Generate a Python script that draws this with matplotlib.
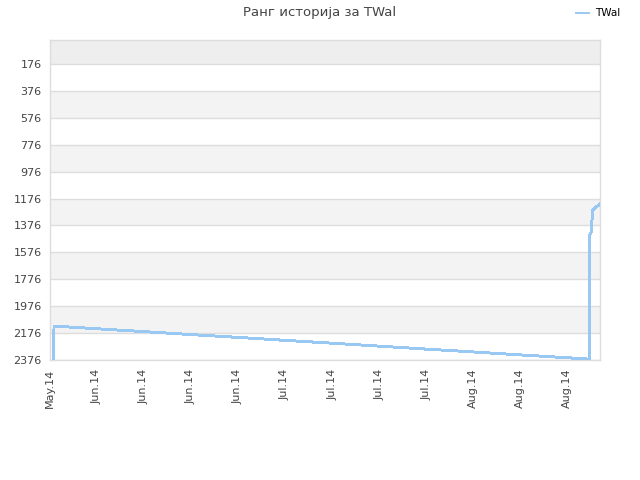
import matplotlib
matplotlib.use("Agg")
import matplotlib.pyplot as plt

# rank history (day offset from first tick, rank)
days = [0.5, 0.6, 7, 14, 21, 28, 35, 42, 49, 56, 63, 70, 77, 80.3, 80.4, 80.6, 80.8, 81.9]
ranks = [2376, 2124, 2144, 2165, 2187, 2208, 2230, 2251, 2273, 2295, 2316, 2338, 2359, 2370,
         1447, 1425, 1261, 1217]

tick_days = [0, 7, 14, 21, 28, 35, 42, 49, 56, 63, 70, 77]
tick_labels = ["May.14", "Jun.14", "Jun.14", "Jun.14", "Jun.14", "Jul.14", "Jul.14",
               "Jul.14", "Jul.14", "Aug.14", "Aug.14", "Aug.14"]
y_ticks = [176, 376, 576, 776, 976, 1176, 1376, 1576, 1776, 1976, 2176, 2376]

fig = plt.figure(figsize=(6.4, 4.8), dpi=100)
ax = fig.add_axes([50 / 640, 120 / 480, 550 / 640, 320 / 480])

y_top = -2
y_bottom = 2376

# alternating bands
ax.axhspan(y_top, 176, color="#eeeeee", zorder=0, lw=0)
for lo in [376, 776, 1176, 1576, 1976]:
    ax.axhspan(lo, lo + 200, color="#f3f3f3", zorder=0, lw=0)
for y in y_ticks:
    ax.axhline(y, color="#dddddd", lw=1, zorder=1)

ax.plot(days, ranks, color="#99c8f2", lw=1.4, label="TWal", zorder=3, antialiased=False)

ax.set_xlim(0, 81.9)
ax.set_ylim(y_bottom, y_top)
ax.set_yticks(y_ticks)
ax.set_yticklabels([str(v) for v in y_ticks])
ax.set_xticks(tick_days)
ax.set_xticklabels(tick_labels, rotation=90)
ax.tick_params(axis="both", length=0, labelsize=8, colors="#444444", pad=6)

for s in ax.spines.values():
    s.set_color("#dddddd")
    s.set_linewidth(1)

fig.text(0.5, 0.988, "Ранг историја за TWal", ha="center", va="top",
         fontsize=9.5, color="#444444")
ax.legend(loc="upper left", bbox_to_anchor=(0.886, 1.002), bbox_transform=fig.transFigure,
          frameon=False, fontsize=7.5, handlelength=1.2, handletextpad=0.6)

fig.savefig("out.png", dpi=100)
